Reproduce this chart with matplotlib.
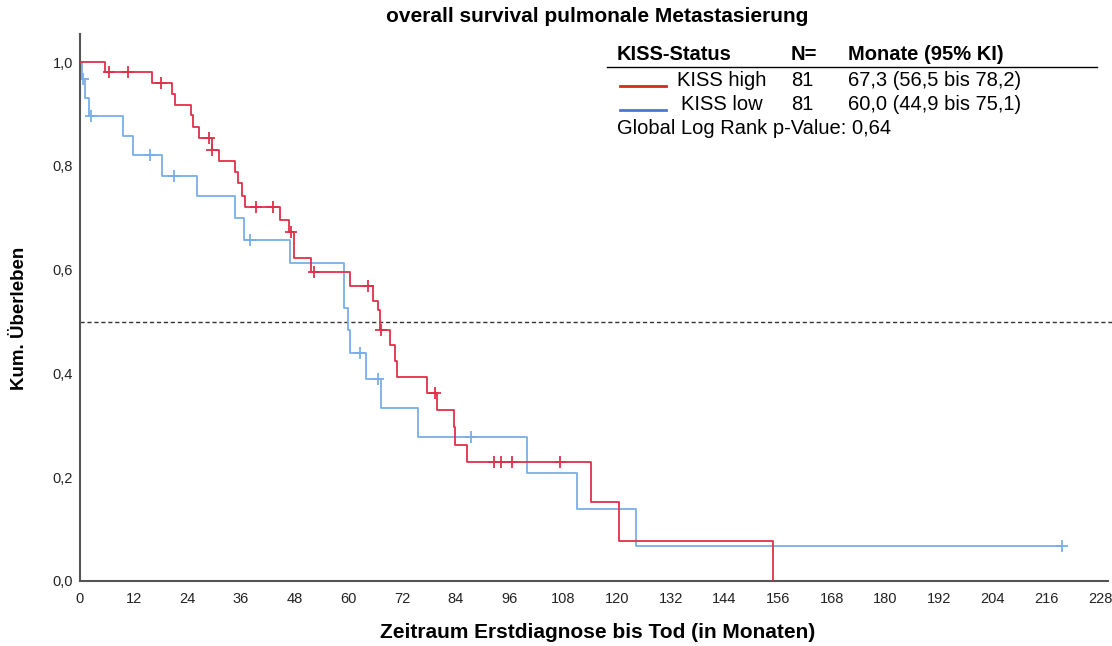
import numpy as np
import matplotlib
matplotlib.use('Agg')
import matplotlib.pyplot as plt

plt.rcParams['font.family'] = ['Liberation Sans', 'DejaVu Sans']

# KISS high: event times (months) and survival after each step
high_times = [0, 5.6, 16.2, 20.5, 21.2, 24.7, 25.3, 26.7, 29.4, 31.1, 34.6, 35.4,
              36.1, 36.9, 44.7, 46.8, 47.8, 51.6, 60.3, 65.6, 66.5, 67.1, 69.3,
              70.4, 70.9, 77.6, 79.7, 83.5, 83.8, 86.4, 114.3, 120.4, 154.8]
high_surv = [1.0, 0.980, 0.960, 0.938, 0.918, 0.898, 0.875, 0.853, 0.830, 0.809,
             0.789, 0.766, 0.742, 0.720, 0.696, 0.673, 0.622, 0.596, 0.569, 0.540,
             0.522, 0.484, 0.455, 0.423, 0.394, 0.362, 0.329, 0.296, 0.262, 0.230,
             0.153, 0.077, 0.0]
high_cens = [6.5, 10.7, 18.0, 28.9, 29.6, 39.4, 43.2, 47.1, 52.3, 64.4, 67.2,
             79.3, 92.6, 94.2, 96.6, 107.3]

# KISS low
low_times = [0, 0.4, 1.1, 2.1, 9.7, 11.8, 18.3, 26.1, 34.6, 36.7, 46.9, 59.1,
             60.0, 60.3, 63.9, 67.3, 75.6, 99.8, 111.0, 124.3]
low_surv = [1.0, 0.967, 0.930, 0.895, 0.857, 0.820, 0.781, 0.741, 0.699, 0.657,
            0.613, 0.526, 0.484, 0.439, 0.389, 0.334, 0.278, 0.208, 0.138, 0.068]
low_cens = [0.7, 2.5, 15.6, 20.9, 38.0, 62.6, 66.5, 87.5, 219.5]
low_end = 219.5

xticks = list(range(0, 229, 12))
yticks = [0.0, 0.2, 0.4, 0.6, 0.8, 1.0]

legend_rows = [('KISS high', '81', '67,3 (56,5 bis 78,2)'),
               ('KISS low', '81', '60,0 (44,9 bis 75,1)')]

red_curve = '#e0304a'
blue_curve = '#7aaee8'
red_leg = '#d42a1c'
blue_leg = '#4a78d0'


def surv_at(times, surv, t):
    idx = np.searchsorted(times, t, side='right') - 1
    return np.array(surv)[idx]


fig = plt.figure(figsize=(11.12, 6.46), dpi=100)
ax = fig.add_axes([80 / 1112, 1 - 581 / 646, 1028 / 1112, 547 / 646])

# KISS high
ax.step(high_times, high_surv, where='post', color=red_curve, lw=1.3, zorder=3)
ax.plot(high_cens, surv_at(high_times, high_surv, high_cens), '+',
        color=red_curve, ms=9, mew=1.3, zorder=3)

# KISS low (line continues to last censored case)
lt = low_times + [low_end]
ls = low_surv + [low_surv[-1]]
ax.step(lt, ls, where='post', color=blue_curve, lw=1.3, zorder=2)
ax.plot(low_cens, surv_at(low_times, low_surv, low_cens), '+',
        color=blue_curve, ms=9, mew=1.3, zorder=2)

# median line
ax.axhline(0.5, xmax=1.004, color='#333333', lw=1.0, ls=(0, (3, 2)), zorder=1, clip_on=False)

ax.set_xlim(0, 1028 / 4.474)
ax.set_ylim(0, 547 / 519)
ax.set_xticks(xticks)
ax.set_xticklabels([str(t) for t in xticks])
ax.set_yticks(yticks)
ax.set_yticklabels([f'{v:.1f}'.replace('.', ',') for v in yticks])
ax.tick_params(length=0, labelsize=10.5, colors='#222222')
ax.tick_params(axis='x', pad=8)
ax.tick_params(axis='y', pad=5)

for s in ['top', 'right']:
    ax.spines[s].set_visible(False)
for s in ['left', 'bottom']:
    ax.spines[s].set_color('#555555')
    ax.spines[s].set_linewidth(1.5)

fig.text(597 / 1112, 1 - 17 / 646, 'overall survival pulmonale Metastasierung',
         ha='center', va='center', fontsize=15, fontweight='bold')
fig.text(598 / 1112, 1 - 633 / 646, 'Zeitraum Erstdiagnose bis Tod (in Monaten)',
         ha='center', va='center', fontsize=15, fontweight='bold')
fig.text(20 / 1112, 1 - 318 / 646, 'Kum. Überleben', rotation=90,
         ha='center', va='center', fontsize=13.5, fontweight='bold')

# legend table
def fx(px):
    return px / 1112


def fy(py):
    return 1 - py / 646


fs = 14.5
fig.text(fx(617), fy(54), 'KISS-Status', fontsize=fs, fontweight='bold', va='center')
fig.text(fx(791), fy(54), 'N=', fontsize=fs, fontweight='bold', va='center')
fig.text(fx(848), fy(54), 'Monate (95% KI)', fontsize=fs, fontweight='bold', va='center')
fig.add_artist(plt.Line2D([fx(607), fx(1097)], [fy(67), fy(67)], color='black', lw=1))

row_y = [80, 104]
for (name, n, med), yy, col, nx in zip(legend_rows, row_y, [red_leg, blue_leg], [677, 681]):
    fig.add_artist(plt.Line2D([fx(620), fx(666)], [fy(yy + 6), fy(yy + 6)], color=col, lw=2))
    fig.text(fx(nx), fy(yy), name, fontsize=fs, va='center')
    fig.text(fx(791), fy(yy), n, fontsize=fs, va='center')
    fig.text(fx(848), fy(yy), med, fontsize=fs, va='center')
fig.text(fx(617), fy(128), 'Global Log Rank p-Value: 0,64', fontsize=fs, va='center')

plt.savefig('out.png', dpi=100)
plt.close()
